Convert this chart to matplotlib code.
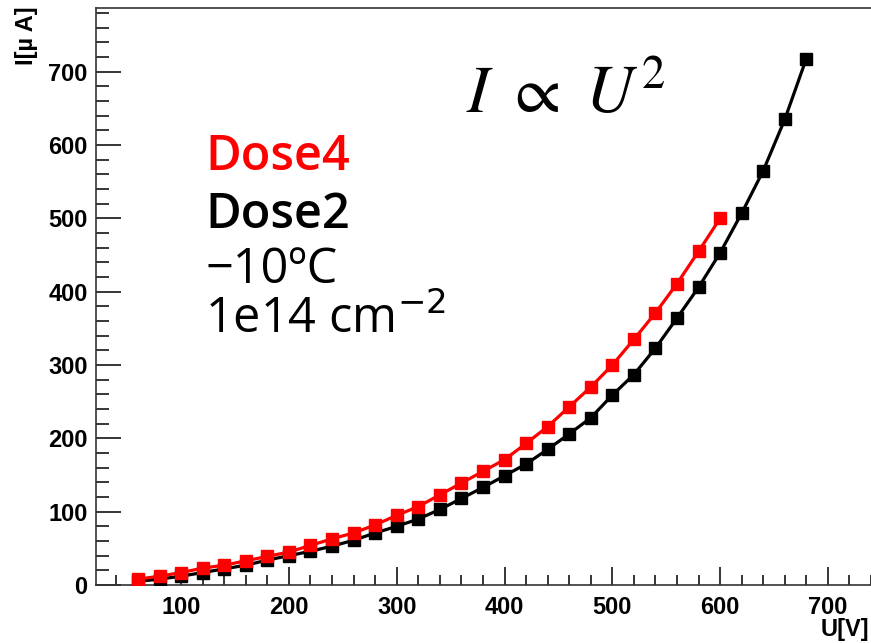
import numpy as np
import matplotlib.pyplot as plt
from matplotlib.ticker import MultipleLocator

# Messpunkte
u_dose2 = np.arange(60, 681, 20)
i_dose2 = [5, 8, 12, 17, 22, 27, 34, 40, 46, 53, 61, 71, 80, 90, 103,
           118, 133, 149, 165, 185, 206, 228, 259, 287, 323, 364, 406,
           453, 507, 565, 635, 718]
u_dose4 = np.arange(60, 601, 20)
i_dose4 = [8, 12, 17, 23, 27, 33, 39, 45, 54, 63, 71, 82, 95, 107, 123,
           139, 155, 171, 193, 216, 243, 270, 300, 335, 371, 411, 455, 500]

fig = plt.figure(figsize=(8.71, 6.43), dpi=100)
ax = fig.add_axes([96/871, 58/643, 1 - 96/871, (585 - 8)/643])

ax.plot(u_dose2, i_dose2, color='black', lw=2.3, marker='s', ms=8.5, zorder=3)
ax.plot(u_dose4, i_dose4, color='red', lw=2.3, marker='s', ms=8.5, zorder=4)

ax.set_xlim(21, 740)
ax.set_ylim(0, 787)
ax.xaxis.set_major_locator(MultipleLocator(100))
ax.xaxis.set_minor_locator(MultipleLocator(20))
ax.yaxis.set_major_locator(MultipleLocator(100))
ax.yaxis.set_minor_locator(MultipleLocator(20))
ax.tick_params(axis='x', which='major', direction='in', length=13, width=1.1, pad=8)
ax.tick_params(axis='x', which='minor', direction='in', length=7, width=1.1)
ax.tick_params(axis='y', which='major', direction='in', length=18, width=1.1, pad=6)
ax.tick_params(axis='y', which='minor', direction='in', length=9, width=1.1)
for lab in ax.get_xticklabels() + ax.get_yticklabels():
    lab.set_fontfamily('Liberation Sans')
    lab.set_fontweight('bold')
    lab.set_fontsize(17)
ax.xaxis.set_major_formatter(lambda v, p: f"{int(v)}" if v > 50 else "")
for s in ['left', 'bottom', 'top']:
    ax.spines[s].set_linewidth(1.2)
    ax.spines[s].set_color('#333333')
ax.spines['right'].set_visible(False)

fig.text(869/871, 1 - 636/643, 'U[V]', ha='right', va='baseline',
         fontfamily='Liberation Sans', fontweight='bold', fontsize=17)
fig.text(26/871, 1 - 6/643, 'I[µ A]', rotation=90, ha='center', va='top',
         fontfamily='Liberation Sans', fontweight='bold', fontsize=17)

ax.text(466/871, 1 - 113/643, r'$I\ \propto\ U^2$', transform=fig.transFigure,
        fontsize=48, ha='left', va='baseline',
        math_fontfamily='stix')
txt = dict(transform=fig.transFigure, ha='left', va='baseline',
           fontfamily='Open Sans', fontsize=35)
ax.text(205/871, 1 - 170/643, 'Dose4', color='red', fontweight='semibold', **txt)
ax.text(205/871, 1 - 228/643, 'Dose2', color='black', fontweight='semibold', **txt)
ax.text(205/871, 1 - 283/643, '−10ºC', color='black', **txt)
ax.text(205/871, 1 - 333/643, '1e14 cm$^{−2}$', color='black', **txt)

fig.savefig('out.png', dpi=100)
